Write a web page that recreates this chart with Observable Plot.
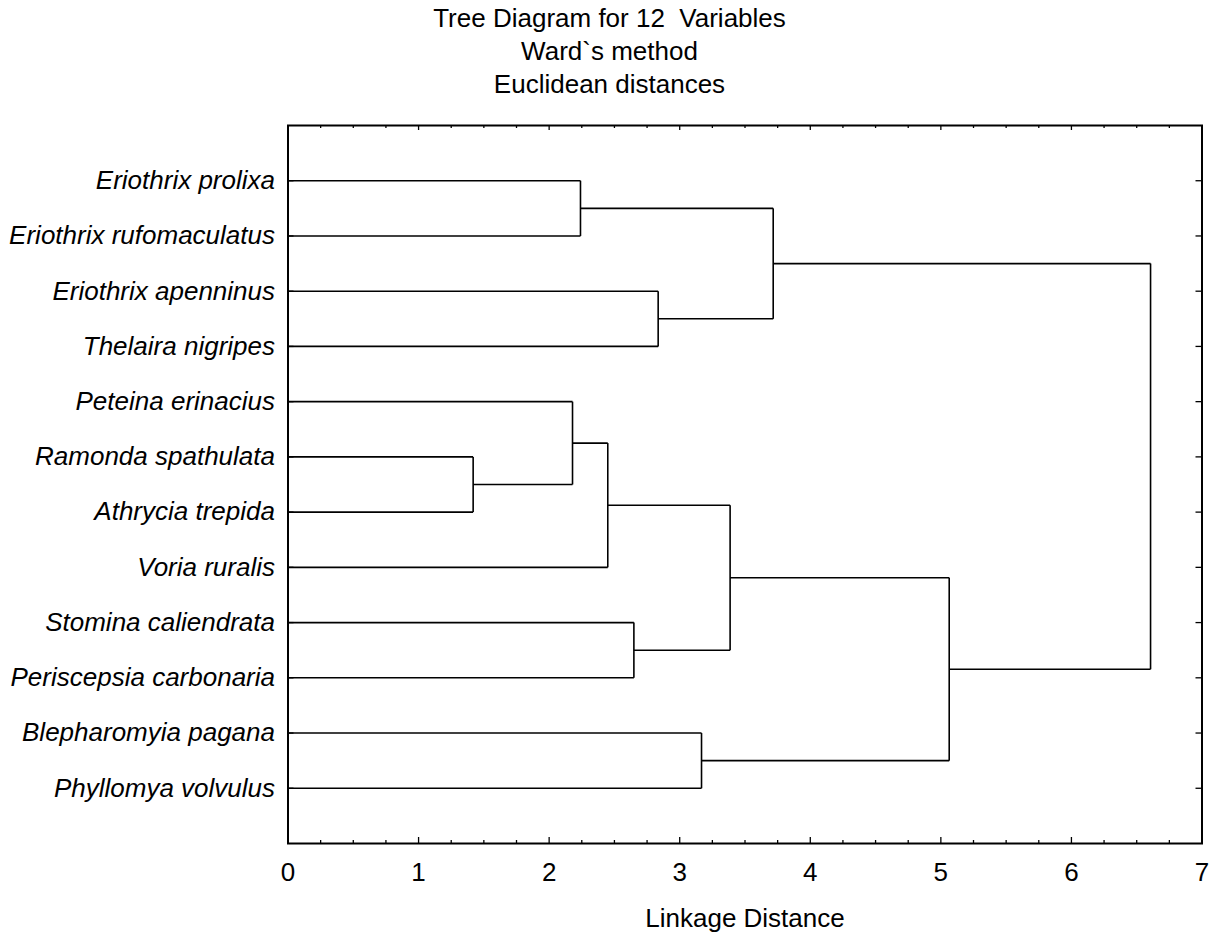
<!DOCTYPE html>
<html>
<head>
<meta charset="utf-8">
<script src="https://cdn.jsdelivr.net/npm/d3@7"></script>
<script src="https://cdn.jsdelivr.net/npm/@observablehq/plot@0.6"></script>
<style>
  html, body { margin: 0; padding: 0; background: #fff; }
  #title { font-family: "Liberation Sans", Arial, sans-serif; font-size: 26px; line-height: 33px;
           text-align: center; height: 101px; box-sizing: border-box; padding-top: 1.5px; padding-left: 6px; color: #000; white-space: pre; }
</style>
</head>
<body>
<div id="title"></div>
<div id="chart"></div>
<script>
const titleLines = ["Tree Diagram for 12  Variables", "Ward`s method", "Euclidean distances"];
const xLabel = "Linkage Distance";

// Leaves, top to bottom
const leaves = [
  "Eriothrix prolixa",
  "Eriothrix rufomaculatus",
  "Eriothrix apenninus",
  "Thelaira nigripes",
  "Peteina erinacius",
  "Ramonda spathulata",
  "Athrycia trepida",
  "Voria ruralis",
  "Stomina caliendrata",
  "Periscepsia carbonaria",
  "Blepharomyia pagana",
  "Phyllomya volvulus"
];

// Merge steps: node ids 0..11 are leaves, new nodes are numbered 12, 13, ...
const mergeA      = [5,     4,     0,     13,    8,     2,     10,    15,    14,    19,    20];
const mergeB      = [6,     12,    1,     7,     9,     3,     11,    16,    17,    18,    21];
const mergeHeight = [1.418, 2.179, 2.240, 2.449, 2.649, 2.835, 3.167, 3.386, 3.716, 5.064, 6.606];

const majorTicks = [0, 1, 2, 3, 4, 5, 6, 7];
const minorTicks = d3.range(0, 7.0001, 0.25).filter(v => Math.abs(v - Math.round(v)) > 1e-9);

document.getElementById("title").textContent = titleLines.join("\n");

// Build node positions
const nodeY = leaves.map((_, i) => i + 1);
const nodeX = leaves.map(() => 0);
const segs = [];
mergeA.forEach((a, k) => {
  const b = mergeB[k], h = mergeHeight[k];
  const ya = nodeY[a], yb = nodeY[b];
  segs.push({x1: nodeX[a], y1: ya, x2: h, y2: ya});
  segs.push({x1: nodeX[b], y1: yb, x2: h, y2: yb});
  segs.push({x1: h, y1: ya, x2: h, y2: yb});
  nodeY.push((ya + yb) / 2);
  nodeX.push(h);
});

const W = 1213, H = 834, mL = 287.5, mR = 11.5, mT = 24, mB = 92;
const innerW = W - mL - mR, innerH = H - mT - mB;
const leafRows = leaves.map((name, i) => ({name, y: i + 1}));
const font = "'Liberation Sans', Arial, sans-serif";

const chart = Plot.plot({
  width: W, height: H,
  marginLeft: mL, marginRight: mR, marginTop: mT, marginBottom: mB,
  style: {fontFamily: font, fontSize: "26px", color: "#000", background: "#fff"},
  x: {domain: [0, 7], axis: null},
  y: {domain: [0, leaves.length + 1], reverse: true, axis: null},
  marks: [
    Plot.link(segs, {x1: "x1", y1: "y1", x2: "x2", y2: "y2", stroke: "#000", strokeWidth: 1.6}),
    // bottom ticks
    Plot.ruleX(majorTicks, {x: d => d, insetTop: innerH - 6, stroke: "#000", strokeWidth: 1.3}),
    Plot.ruleX(minorTicks, {x: d => d, insetTop: innerH - 3, stroke: "#000", strokeWidth: 1.3}),
    // top ticks
    Plot.ruleX(majorTicks, {x: d => d, insetBottom: innerH - 5, stroke: "#000", strokeWidth: 1.3}),
    Plot.ruleX(minorTicks, {x: d => d, insetBottom: innerH - 3, stroke: "#000", strokeWidth: 1.3}),
    // right and left ticks
    Plot.ruleY(leafRows, {y: "y", insetLeft: innerW - 6, stroke: "#000", strokeWidth: 1.3}),
    Plot.ruleY(leafRows, {y: "y", insetRight: innerW - 6, stroke: "#000", strokeWidth: 1.3}),
    Plot.frame({stroke: "#000", strokeWidth: 2}),
    Plot.text(leafRows, {x: 0, y: "y", text: "name", textAnchor: "end", dx: -13, fontStyle: "italic", fontSize: 26, fill: "#000"}),
    Plot.text(majorTicks, {x: d => d, frameAnchor: "bottom", dy: 37, text: d => String(d), fontSize: 26, fill: "#000"}),
    Plot.text([xLabel], {frameAnchor: "bottom", dy: 83, text: d => d, fontSize: 26, fill: "#000"})
  ]
});
document.getElementById("chart").appendChild(chart);
</script>
</body>
</html>
